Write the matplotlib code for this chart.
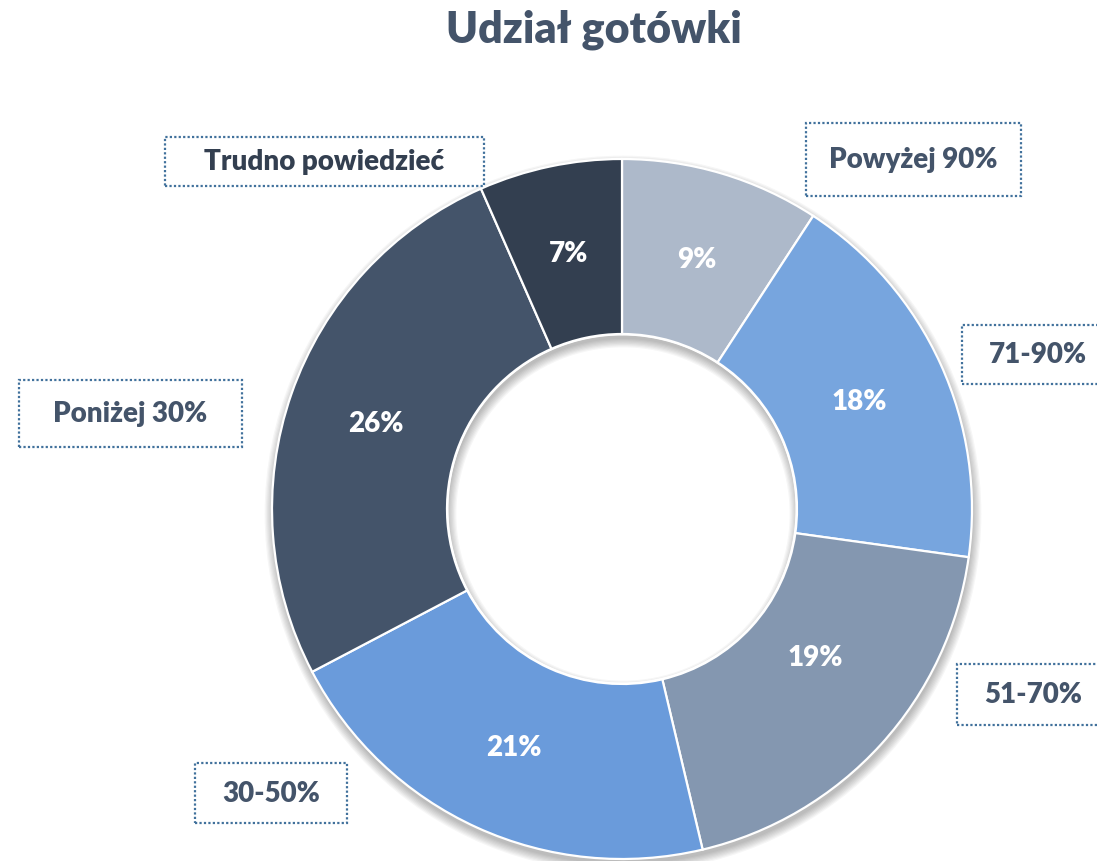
import matplotlib.pyplot as plt
from matplotlib.patches import Wedge, Rectangle

plt.rcParams['font.family'] = ['Lato', 'DejaVu Sans']

kategorie = ['Powyżej 90%', '71-90%', '51-70%', '30-50%', 'Poniżej 30%', 'Trudno powiedzieć']
udzialy = [9.2, 18.0, 19.1, 21.0, 26.1, 6.6]
kolory = ['#ADB9CA', '#77A5DE', '#8497B0', '#6A9BDB', '#44546A', '#333F50']

# label box layout (pixel coords, y from top): centre x, centre y, width, height
ramki = [(913, 160, 215, 73), (1038, 355, 152, 59), (1033, 695, 152, 61),
         (271, 794, 152, 60), (130, 414, 223, 67), (324, 162, 319, 49)]
kolory_tekstu = ['#44546A'] * 5 + ['#333F50']

W, H = 1097, 862
fig = plt.figure(figsize=(W / 100, H / 100), dpi=100)
ax = fig.add_axes([0, 0, 1, 1])

cx, cy = 622, H - 510
R, r = 350, 175

# soft drop shadow under the ring
for i in range(8):
    s = i * 1.2
    ax.add_patch(Wedge((cx + 1, cy - 5), R + s, 0, 360, width=R - r + 2 * s,
                       fc='black', ec='none', alpha=0.035))

wedges, _, pcts = ax.pie(udzialy, colors=kolory, startangle=90, counterclock=False,
                         center=(cx, cy), radius=R, autopct='%.0f%%', pctdistance=0.746,
                         wedgeprops=dict(width=R - r, edgecolor='white', linewidth=1.6),
                         textprops=dict(color='white', fontsize=20, fontweight='heavy'))
# 19% label sits a bit higher in the original
px, py = pcts[2].get_position()
pcts[2].set_position((px, py + 28))

# white ring over the inner edge, keeps the hole clean but lets the shadow show
ax.add_patch(Wedge((cx, cy), r, 0, 360, width=1.5, fc='white', ec='none'))

for (x, y, w, h), nazwa, kol in zip(ramki, kategorie, kolory_tekstu):
    ax.add_patch(Rectangle((x - w / 2, H - y - h / 2), w, h, fc='white', ec='#41719C',
                           lw=1.6, ls=(0, (1, 1)), clip_on=False))
    ax.text(x, H - y, nazwa, ha='center', va='center', fontsize=20,
            fontweight='heavy', color=kol)

ax.text(594, H - 30, 'Udział gotówki', ha='center', va='center', fontsize=31,
        fontweight='heavy', color='#44546A')

ax.set_xlim(0, W)
ax.set_ylim(0, H)
ax.set_aspect('equal')
ax.axis('off')
fig.savefig('out.png', dpi=100)
